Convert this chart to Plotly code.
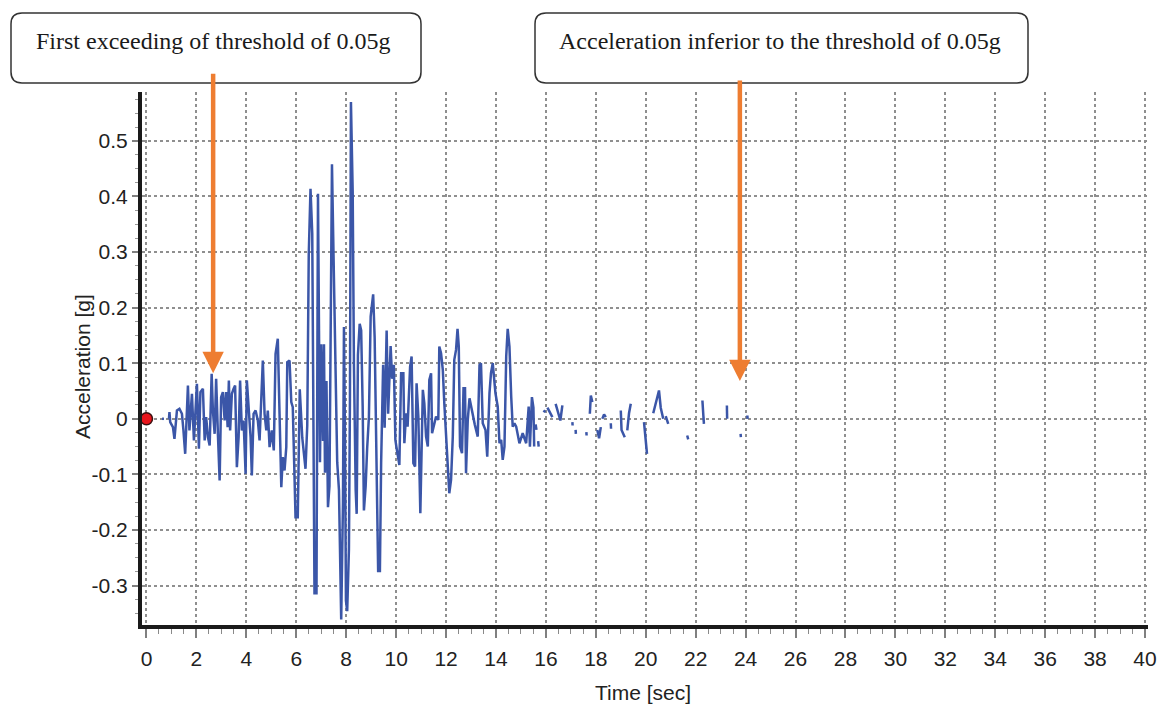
import plotly.graph_objects as go

# ---- data ----
time_s = [
    0.62, 0.70, None,
    0.90, 0.92, 0.95, 1.06, 1.12, 1.22, 1.32, 1.42, 1.48, 1.55, 1.66, 1.72, 1.82, 1.90,
    2.02, 2.10, 2.16, 2.26, 2.33, 2.39, 2.46, 2.53, 2.61, 2.66, 2.73, 2.79, 2.86, 2.93,
    2.99, 3.06, 3.13, 3.19, 3.25, 3.30, 3.35, 3.42, 3.49, 3.55, 3.62, 3.69, 3.75, 3.82,
    3.89, 3.97, 4.02, 4.10, 4.17, 4.22, 4.29, 4.37, 4.46, 4.53, 4.60, 4.66, 4.73, 4.80,
    4.86, 4.93, 5.02, 5.10, 5.17, 5.26, 5.33, 5.40, 5.46, 5.53, 5.60, 5.64, 5.73, 5.80,
    5.86, 5.97, 6.06, 6.14, 6.24, 6.37, 6.44, 6.50, 6.57, 6.64, 6.73, 6.81, 6.87, 6.91,
    6.95, 7.00, 7.07, 7.11, 7.15, 7.21, 7.27, 7.33, 7.43, 7.48, 7.57, 7.64, 7.71, 7.75,
    7.80, 7.87, 7.91, 7.95, 7.99, 8.04, 8.11, 8.15, 8.19, 8.26, 8.31, 8.38, 8.42, 8.47,
    8.54, 8.60, 8.66, 8.71, 8.78, 8.84, 8.91, 8.98, 9.03, 9.08, 9.14, 9.19, 9.24, 9.28,
    9.35, 9.40, 9.48, 9.54, 9.62, 9.68, 9.78, 9.84, 9.91, 9.97, 10.02, 10.13, 10.20,
    10.29, 10.33, 10.40, 10.46, 10.56, 10.62, 10.69, 10.76, 10.82, 10.89, 10.97, 11.07,
    11.13, 11.20, 11.27, 11.33, 11.40, 11.44, 11.51, 11.60, 11.69, 11.73, 11.80, 11.87,
    11.93, 12.00, 12.07, 12.13, 12.20, 12.27, 12.33, 12.40, 12.46, 12.51, 12.56, 12.64,
    12.70, 12.76, 12.80, 12.87, 12.94, 13.05, 13.15, 13.27, 13.34, 13.40, 13.47, 13.58,
    13.65, 13.74, 13.80, 13.87, 13.98, 14.07, 14.14, 14.21, 14.27, 14.34, 14.41, 14.47,
    14.54, 14.61, 14.67, 14.74, 14.81, 14.94, 15.07, 15.21, 15.31, 15.36, 15.44, 15.50,
    15.53, None,
    15.59, 15.62, None,
    15.69, 15.71, None,
    15.90, 15.98, None,
    16.06, 16.16, 16.26, None,
    16.39, 16.58, 16.66, None,
    17.06, 17.07, None,
    17.19, 17.20, None,
    17.62, 17.63, None,
    17.76, 17.80, 17.86, None,
    18.06, 18.13, 18.20, None,
    18.26, 18.33, 18.40, None,
    18.60, 18.61, None,
    19.00, 19.03, 19.16, None,
    19.26, 19.33, 19.40, None,
    19.93, 20.00, 20.05, None,
    20.30, 20.40, 20.53, 20.60, 20.70, None,
    20.80, 20.90, None,
    21.66, 21.70, None,
    22.27, 22.30, 22.33, None,
    23.25, 23.26, None,
    23.80, 23.81, None,
    24.07, 24.08,
]

accel_g = [
    0.0, 0.0, None,
    0.0, 0.012, -0.006, -0.015, -0.036, 0.015, 0.018, 0.009, -0.021, -0.063, 0.060, -0.021, 0.045, -0.039,
    0.063, -0.054, 0.048, 0.054, -0.039, 0.003, -0.033, -0.048, 0.081, 0.015, -0.027, 0.072, -0.027, -0.111,
    0.039, 0.048, -0.003, 0.048, -0.015, 0.069, -0.021, 0.045, 0.054, 0.060, -0.087, -0.033, 0.069, -0.021,
    -0.003, -0.099, 0.069, 0.015, -0.033, -0.102, 0.009, 0.015, -0.003, -0.039, 0.027, 0.105, 0.009, -0.021,
    0.015, -0.051, -0.021, -0.057, 0.117, 0.144, 0.009, -0.123, -0.069, -0.093, -0.051, 0.102, 0.105, 0.030,
    0.021, -0.177, -0.177, 0.053, -0.034, -0.090, -0.012, 0.296, 0.414, 0.333, -0.314, -0.314, 0.405, 0.159,
    -0.078, 0.134, -0.040, 0.134, -0.097, 0.068, -0.159, -0.121, 0.458, 0.327, 0.090, -0.078, -0.128, -0.271,
    -0.361, -0.153, 0.165, -0.028, -0.327, -0.346, -0.234, 0.034, 0.570, 0.408, 0.097, -0.128, -0.171, 0.115,
    0.171, 0.159, 0.022, -0.165, -0.121, -0.053, 0.003, 0.184, 0.202, 0.224, 0.146, -0.040, -0.202, -0.274,
    -0.274, -0.078, 0.097, -0.016, 0.159, 0.009, 0.131, 0.072, 0.097, -0.038, -0.053, -0.083, 0.082,
    0.082, -0.044, 0.010, -0.014, 0.094, 0.112, -0.080, -0.086, 0.064, 0.004, -0.170, 0.052,
    0.028, -0.032, -0.050, 0.070, 0.082, -0.026, -0.014, 0.004, -0.002, 0.130, 0.118, 0.088,
    0.028, -0.032, -0.107, -0.134, -0.110, -0.032, 0.106, 0.124, 0.162, 0.130, -0.050, -0.062,
    0.055, 0.055, -0.098, -0.002, 0.037, 0.010, -0.010, -0.032, 0.097, 0.100, -0.008, -0.020,
    -0.068, 0.046, 0.082, 0.100, 0.046, 0.022, -0.044, -0.038, -0.074, -0.050, 0.112, 0.162,
    0.130, 0.040, -0.014, -0.008, -0.014, -0.044, -0.026, -0.044, 0.022, -0.050, 0.039, 0.020,
    -0.050, None,
    -0.010, -0.020, None,
    -0.040, -0.050, None,
    0.015, 0.012, None,
    0.020, 0.010, 0.003, None,
    0.027, -0.003, 0.024, None,
    -0.006, -0.012, None,
    -0.020, -0.027, None,
    -0.024, -0.030, None,
    0.009, 0.042, 0.030, None,
    -0.020, -0.035, -0.015, None,
    0.000, 0.008, 0.003, None,
    -0.008, -0.018, None,
    0.015, -0.020, -0.033, None,
    -0.021, 0.010, 0.027, None,
    -0.006, -0.040, -0.063, None,
    0.010, 0.030, 0.051, 0.020, 0.000, None,
    0.005, -0.009, None,
    -0.030, -0.037, None,
    0.033, 0.010, -0.009, None,
    0.024, 0.000, None,
    -0.027, -0.033, None,
    0.006, 0.000,
]

start_point_t = [0.0]
start_point_a = [0.0]

x_tick_vals = list(range(0, 41, 2))
x_tick_text = [str(v) for v in x_tick_vals]
y_tick_vals = [0.5, 0.4, 0.3, 0.2, 0.1, 0.0, -0.1, -0.2, -0.3]
y_tick_text = ["0.5", "0.4", "0.3", "0.2", "0.1", "0", "-0.1", "-0.2", "-0.3"]

x_title = "Time [sec]"
y_title = "Acceleration [g]"

arrow_points = [(2.67, 0.082), (23.77, 0.068)]
box_texts = ["First exceeding of threshold of 0.05g",
             "Acceleration inferior to the threshold of 0.05g"]

# ---- layout geometry (pixels) ----
W, H = 1157, 709
ML, MR, MT, MB = 142, 9, 92, 84
PW, PH = W - ML - MR, H - MT - MB


def px_to_paper(px, py):
    return (px - ML) / PW, (H - MB - py) / PH


def rounded_rect(px0, py0, px1, py1, r=10):
    x0, y1 = px_to_paper(px0, py0)
    x1, y0 = px_to_paper(px1, py1)
    rx, ry = r / PW, r / PH
    return (f"M{x0+rx},{y0} L{x1-rx},{y0} Q{x1},{y0} {x1},{y0+ry} "
            f"L{x1},{y1-ry} Q{x1},{y1} {x1-rx},{y1} L{x0+rx},{y1} "
            f"Q{x0},{y1} {x0},{y1-ry} L{x0},{y0+ry} Q{x0},{y0} {x0+rx},{y0} Z")


fig = go.Figure()
fig.add_trace(go.Scatter(
    x=time_s, y=accel_g, mode="lines", connectgaps=False,
    line=dict(color="#3b56a8", width=2.5), hoverinfo="skip", showlegend=False))
fig.add_trace(go.Scatter(
    x=start_point_t, y=start_point_a, mode="markers", cliponaxis=False,
    marker=dict(color="#e8141b", size=12, line=dict(color="#3a1010", width=1.5)),
    showlegend=False))

axis_font = dict(family="Liberation Sans, Arial, sans-serif", size=21, color="#222222")

fig.update_layout(
    width=W, height=H,
    margin=dict(l=ML, r=MR, t=MT, b=MB, autoexpand=False),
    paper_bgcolor="white", plot_bgcolor="white",
    showlegend=False,
    xaxis=dict(
        range=[-0.18, 40.12], tickvals=x_tick_vals, ticktext=x_tick_text,
        automargin=False,
        showgrid=True, gridcolor="#8f8f8f", griddash="dot", gridwidth=1.5,
        zeroline=False, showline=True, linecolor="#1a1a1a", linewidth=4,
        ticks="outside", ticklen=9, tickwidth=1.5, tickcolor="#808080",
        minor=dict(dtick=0.5, tick0=0, ticks="outside", ticklen=5, tickwidth=1.2,
                   tickcolor="#8a8a8a", showgrid=False),
        tickfont=axis_font, ticklabelstandoff=3,
    ),
    yaxis=dict(
        range=[-0.371, 0.588], tickvals=y_tick_vals, ticktext=y_tick_text,
        automargin=False,
        showgrid=True, gridcolor="#8f8f8f", griddash="dot", gridwidth=1.5,
        zeroline=False, showline=True, linecolor="#1a1a1a", linewidth=4,
        ticks="outside", ticklen=6, tickwidth=1.5, tickcolor="#808080",
        minor=dict(dtick=0.025, tick0=0, ticks="outside", ticklen=3, tickwidth=1.2,
                   tickcolor="#9a9a9a", showgrid=False),
        tickfont=axis_font,
    ),
)

# axis titles placed as annotations
tx, ty = px_to_paper(643, 692)
fig.add_annotation(x=tx, y=ty, xref="paper", yref="paper", text=x_title, showarrow=False,
                   xanchor="center", yanchor="middle", font=axis_font)
tx, ty = px_to_paper(82, 367)
fig.add_annotation(x=tx, y=ty, xref="paper", yref="paper", text=y_title, showarrow=False,
                   textangle=-90, xanchor="center", yanchor="middle", font=axis_font)

# rounded boxes with texts
boxes_px = [(11, 13, 421, 83), (535, 13, 1028, 83)]
text_centers_px = [(213, 41), (780, 41)]
for (bx0, by0, bx1, by1), (cx, cy), txt in zip(boxes_px, text_centers_px, box_texts):
    fig.add_shape(type="path", xref="paper", yref="paper",
                  path=rounded_rect(bx0, by0, bx1, by1, 11),
                  line=dict(color="#333333", width=1.5), fillcolor="white", layer="above")
    px_, py_ = px_to_paper(cx, cy)
    fig.add_annotation(x=px_, y=py_, xref="paper", yref="paper", text=txt,
                       showarrow=False, xanchor="center", yanchor="middle",
                       font=dict(family="Liberation Serif, Times New Roman, serif",
                                 size=24, color="#1a1a1a"))

# orange arrows
arrow_offsets = [-301, -302]
for (ax_t, ax_a), off in zip(arrow_points, arrow_offsets):
    fig.add_annotation(x=ax_t, y=ax_a, xref="x", yref="y", text="",
                       showarrow=True, ax=0, ay=off, axref="pixel", ayref="pixel",
                       arrowhead=2, arrowsize=0.95, arrowwidth=4.5, arrowcolor="#ee7d31",
                       standoff=0)

fig.write_html("out.html")
